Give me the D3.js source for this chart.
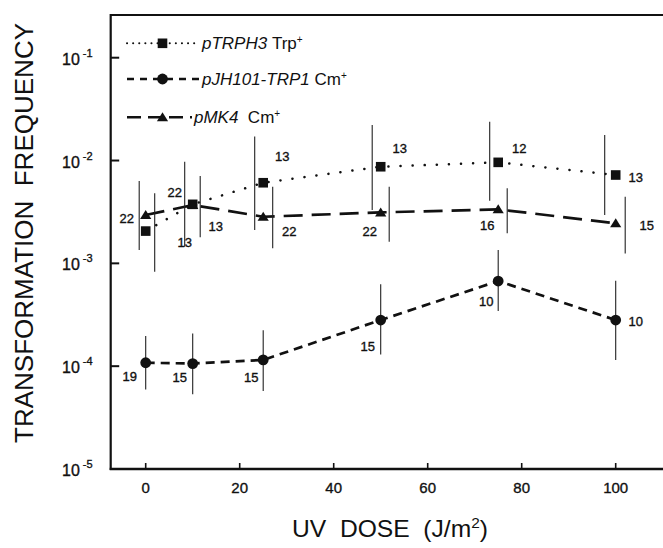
<!DOCTYPE html>
<html>
<head>
<meta charset="utf-8">
<script src="https://d3js.org/d3.v7.min.js"></script>
<style>
  body { margin: 0; background: #fff; }
  text { font-family: "Liberation Sans", Arial, Helvetica, sans-serif; fill: #111; }
  .medium { stroke: #111; stroke-width: 0.35px; }
</style>
</head>
<body>
<div id="chart"></div>
<script>
// Data
const doses = [0, 10, 25, 50, 75, 100];

const trph3 = [2.06e-3, 3.75e-3, 6.08e-3, 8.7e-3, 9.6e-3, 7.23e-3];
const trph3Lo = [8.28e-4, 1.45e-3, 2.11e-3, 3.3e-3, 4.06e-3, 2.95e-3];
const trph3Hi = [4.8e-3, 9.73e-3, 1.71e-2, 2.21e-2, 2.38e-2, 1.77e-2];
const trph3N = [13, 13, 13, 13, 12, 13];

const jh101 = [1.08e-4, 1.06e-4, 1.15e-4, 2.81e-4, 6.73e-4, 2.81e-4];
const jh101Lo = [5.94e-5, 5.32e-5, 5.73e-5, 1.30e-4, 3.44e-4, 1.15e-4];
const jh101Hi = [1.96e-4, 2.08e-4, 2.24e-4, 6.25e-4, 1.35e-3, 6.78e-4];
const jh101N = [19, 15, 15, 15, 10, 10];

const mk4 = [2.95e-3, 3.69e-3, 2.84e-3, 3.13e-3, 3.35e-3, 2.45e-3];
const mk4Lo = [1.35e-3, 1.79e-3, 1.40e-3, 1.62e-3, 1.96e-3, 1.25e-3];
const mk4Hi = [6.33e-3, 7.06e-3, 5.56e-3, 5.56e-3, 5.37e-3, 4.45e-3];
const mk4N = [22, 22, 22, 22, 16, 15];

const xTicks = [0, 20, 40, 60, 80, 100];
const yTicks = [-5, -4, -3, -2, -1];

// Layout (pixel nudges for error bars and n labels, as in the figure)
const width = 663, height = 548;
const frame = { left: 110.7, top: 15, right: 672, bottom: 469 };

const layout = {
  trph3: { barDx: [9, -8, -8.5, -8.5, -8.5, -11],
           lab: [[39, 11], [23, 22], [19, -26], [19, -18], [21, -14], [20, 2]] },
  jh101: { barDx: [0, 0, 0, 0, 0, 0],
           lab: [[-16, 14], [-13, 14], [-12, 17], [-13, 26], [-12, 20], [20, 1]] },
  mk4:   { barDx: [-6.5, 7.5, 9.5, 8.5, 9, 9.5],
           lab: [[-19, 3], [-18, -13], [26, 15], [-11, 19], [-11, 16], [31, 2]] }
};

const series = [
  { key: "trph3", vals: trph3, lo: trph3Lo, hi: trph3Hi, n: trph3N, dash: "0.1,12", cap: "round", shape: "square" },
  { key: "jh101", vals: jh101, lo: jh101Lo, hi: jh101Hi, n: jh101N, dash: "9,6", cap: "butt", shape: "circle" },
  { key: "mk4", vals: mk4, lo: mk4Lo, hi: mk4Hi, n: mk4N, dash: "19,9", cap: "butt", shape: "triangle" }
];

const svg = d3.select("#chart").append("svg")
  .attr("width", width)
  .attr("height", height);

// Scales
const x = d3.scaleLinear().domain([0, 100]).range([145.7, 615.7]);
const y = d3.scaleLog().domain([1e-5, 1e-1]).range([469, 57.7]);

// Frame
svg.append("line")
  .attr("x1", frame.left).attr("x2", frame.right)
  .attr("y1", frame.top).attr("y2", frame.top)
  .attr("stroke", "#111").attr("stroke-width", 2);
svg.append("line")
  .attr("x1", frame.left).attr("x2", frame.left)
  .attr("y1", frame.top - 1).attr("y2", frame.bottom + 1)
  .attr("stroke", "#111").attr("stroke-width", 2.2);
svg.append("line")
  .attr("x1", frame.left - 1).attr("x2", frame.right)
  .attr("y1", frame.bottom).attr("y2", frame.bottom)
  .attr("stroke", "#111").attr("stroke-width", 2.5);

// X ticks
svg.selectAll(".xtick")
  .data(xTicks)
  .join("line")
  .attr("x1", d => x(d)).attr("x2", d => x(d))
  .attr("y1", frame.bottom).attr("y2", frame.bottom - 6)
  .attr("stroke", "#111").attr("stroke-width", 1.6);

svg.selectAll(".xlabel")
  .data(xTicks)
  .join("text")
  .attr("class", "medium")
  .attr("x", d => x(d))
  .attr("y", 493)
  .attr("text-anchor", "middle")
  .style("font-size", "15px")
  .text(d => d);

// Y ticks
svg.selectAll(".ytick")
  .data(yTicks)
  .join("line")
  .attr("x1", frame.left).attr("x2", frame.left + 8.5)
  .attr("y1", d => y(Math.pow(10, d))).attr("y2", d => y(Math.pow(10, d)))
  .attr("stroke", "#111").attr("stroke-width", 2);

const yLab = svg.selectAll(".ylabel")
  .data(yTicks)
  .join("text")
  .attr("class", "medium")
  .attr("x", 62)
  .attr("y", d => y(Math.pow(10, d)) + 7)
  .style("font-size", "16px");
yLab.append("tspan").text("10");
yLab.append("tspan")
  .attr("dx", 3).attr("dy", -8)
  .style("font-size", "11px")
  .text(d => d);

// Axis titles
svg.append("text")
  .attr("transform", "translate(33,233) rotate(-90)")
  .attr("text-anchor", "middle")
  .attr("textLength", 420)
  .attr("lengthAdjust", "spacingAndGlyphs")
  .style("font-size", "25px")
  .text("TRANSFORMATION\u00a0\u00a0FREQUENCY");

const xt = svg.append("text")
  .attr("x", 292)
  .attr("y", 537)
  .attr("textLength", 196)
  .attr("lengthAdjust", "spacingAndGlyphs")
  .style("font-size", "24px");
xt.append("tspan").text("UV\u00a0\u00a0DOSE\u00a0\u00a0(J/m");
xt.append("tspan").attr("dy", -9).style("font-size", "15px").text("2");
xt.append("tspan").attr("dy", 9).text(")");

// Marker drawing
function marker(g, shape, cx, cy) {
  if (shape === "square") {
    g.append("rect")
      .attr("x", cx - 4.8).attr("y", cy - 4.8)
      .attr("width", 9.6).attr("height", 9.6)
      .attr("fill", "#111");
  } else if (shape === "circle") {
    g.append("circle")
      .attr("cx", cx).attr("cy", cy).attr("r", 5.4)
      .attr("fill", "#111");
  } else {
    g.append("path")
      .attr("d", `M${cx - 5.6},${cy + 4}L${cx + 5.6},${cy + 4}L${cx},${cy - 5}Z`)
      .attr("fill", "#111");
  }
}

const line = d3.line()
  .x(d => x(d[0]))
  .y(d => y(d[1]));

// Data lines
series.forEach(s => {
  svg.append("path")
    .datum(doses.map((d, i) => [d, s.vals[i]]))
    .attr("d", line)
    .attr("fill", "none")
    .attr("stroke", "#111")
    .attr("stroke-width", s.shape === "square" ? 2.5 : 2.7)
    .attr("stroke-linecap", s.cap)
    .attr("stroke-dasharray", s.dash);
});

// Error bars
series.forEach(s => {
  const L = layout[s.key];
  svg.selectAll(".err-" + s.key)
    .data(doses)
    .join("line")
    .attr("x1", (d, i) => x(d) + L.barDx[i])
    .attr("x2", (d, i) => x(d) + L.barDx[i])
    .attr("y1", (d, i) => y(s.lo[i]))
    .attr("y2", (d, i) => y(s.hi[i]))
    .attr("stroke", "#222")
    .attr("stroke-width", 1.1);
});

// Markers and n labels
series.forEach(s => {
  const L = layout[s.key];
  const g = svg.append("g");
  doses.forEach((d, i) => marker(g, s.shape, x(d), y(s.vals[i])));
  svg.selectAll(".n-" + s.key)
    .data(doses)
    .join("text")
    .attr("class", "medium")
    .attr("x", (d, i) => x(d) + L.lab[i][0])
    .attr("y", (d, i) => y(s.vals[i]) + L.lab[i][1] + 4.6)
    .attr("text-anchor", "middle")
    .style("font-size", "13px")
    .text((d, i) => s.n[i]);
});

// Legend
const legendRows = [
  { s: series[0], y: 43.3, x0: 127, x1: 199, tx: 202, name: "pTRPH3", rest: " Trp" },
  { s: series[1], y: 79, x0: 127, x1: 199, tx: 202, name: "pJH101-TRP1", rest: " Cm" },
  { s: series[2], y: 117.3, x0: 127, x1: 192, tx: 194, name: "pMK4", rest: "  Cm" }
];

legendRows.forEach(r => {
  svg.append("line")
    .attr("x1", r.x0).attr("x2", r.x1)
    .attr("y1", r.y).attr("y2", r.y)
    .attr("stroke", "#111")
    .attr("stroke-width", r.s.shape === "square" ? 2 : 2.4)
    .attr("stroke-linecap", r.s.cap)
    .attr("stroke-dasharray", r.s.shape === "square" ? "0.1,6" : (r.s.shape === "circle" ? "7,6" : "14,7"));
  marker(svg, r.s.shape, 162.5, r.y);
  const t = svg.append("text")
    .attr("x", r.tx)
    .attr("y", r.y + 6)
    .style("font-size", "17px");
  t.append("tspan").style("font-style", "italic").text(r.name);
  t.append("tspan").text(r.rest.replace(/ /g, "\u00a0"));
  t.append("tspan").attr("dy", -6).style("font-size", "10px").text("+");
});
</script>
</body>
</html>
